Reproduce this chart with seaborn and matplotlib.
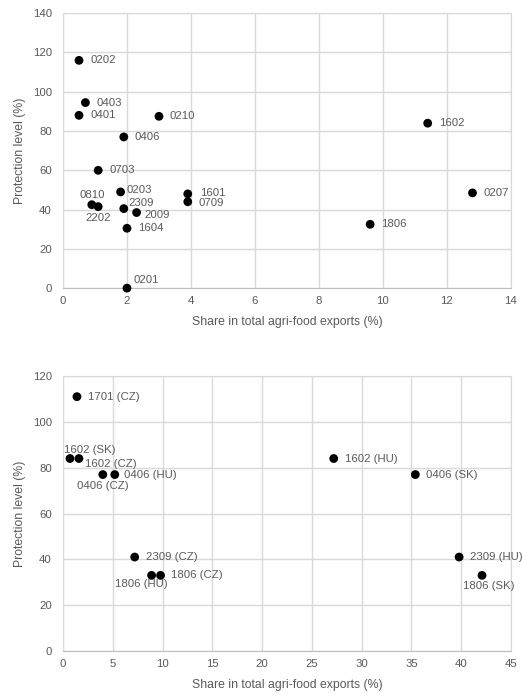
import matplotlib
matplotlib.use("Agg")
import matplotlib.pyplot as plt
import seaborn as sns
import pandas as pd

# Top panel: product codes
top_codes = ["0202", "0403", "0401", "0210", "0406", "0703", "0203", "0810", "2202",
             "2309", "2009", "1604", "0201", "1601", "0709", "1602", "0207", "1806"]
top_share = [0.5, 0.7, 0.5, 3.0, 1.9, 1.1, 1.8, 0.9, 1.1,
             1.9, 2.3, 2.0, 2.0, 3.9, 3.9, 11.4, 12.8, 9.6]
top_prot = [116, 94.5, 88, 87.5, 77, 60, 49, 42.5, 41.5,
            40.5, 38.5, 30.5, 0, 48, 44, 84, 48.5, 32.5]

# Bottom panel: product codes by country
bot_codes = ["1701 (CZ)", "1602 (SK)", "1602 (CZ)", "0406 (CZ)", "0406 (HU)", "2309 (CZ)",
             "1806 (HU)", "1806 (CZ)", "1602 (HU)", "0406 (SK)", "2309 (HU)", "1806 (SK)"]
bot_share = [1.4, 0.7, 1.6, 4.0, 5.2, 7.2, 8.9, 9.8, 27.2, 35.4, 39.8, 42.1]
bot_prot = [111, 84, 84, 77, 77, 41, 33, 33, 84, 77, 41, 33]

# label placement (pixel offsets, horizontal alignment)
top_offsets = {"0810": (0, 10, "center"), "2202": (0, -11, "center"), "0203": (6, 2, "left"),
               "2309": (5, 6, "left"), "2009": (8, -2, "left"), "0201": (7, 8, "left"),
               "1601": (12, 1, "left"), "0709": (11, -1, "left")}
bot_offsets = {"1602 (SK)": (-6, 9, "left"), "1602 (CZ)": (6, -5, "left"),
               "0406 (CZ)": (0, -11, "center"), "0406 (HU)": (9, 0, "left"),
               "1806 (HU)": (-10, -9, "center"), "1806 (CZ)": (10, 0, "left"),
               "1806 (SK)": (7, -11, "center")}

sns.set_style("white")
plt.rcParams["font.family"] = ["Liberation Sans", "DejaVu Sans"]

grey_text = "#595959"
grid_col = "#d9d9d9"

fig = plt.figure(figsize=(5.22, 6.96), dpi=100)
ax1 = fig.add_axes([0.1207, 0.586, 0.858, 0.395])
ax2 = fig.add_axes([0.1207, 0.0647, 0.858, 0.395])


def draw(ax, codes, xs, ys, offsets, xlim, xstep, ylim, ystep):
    df = pd.DataFrame({"code": codes, "share": xs, "prot": ys})
    sns.scatterplot(data=df, x="share", y="prot", color="black", s=40,
                    edgecolor="none", ax=ax, zorder=3, clip_on=False)
    for c, x, y in zip(codes, xs, ys):
        dx, dy, ha = offsets.get(c, (11, 0, "left"))
        ax.annotate(c, (x, y), xytext=(dx, dy), textcoords="offset pixels",
                    ha=ha, va="center", fontsize=8.2, color=grey_text)
    ax.set_xlim(*xlim)
    ax.set_ylim(*ylim)
    ax.set_xticks(range(xlim[0], xlim[1] + 1, xstep))
    ax.set_yticks(range(ylim[0], ylim[1] + 1, ystep))
    ax.grid(True, color=grid_col, linewidth=1)
    ax.set_axisbelow(True)
    for s in ax.spines.values():
        s.set_color(grid_col)
    ax.spines["bottom"].set_color("#bfbfbf")
    ax.tick_params(length=0, labelsize=8.2, labelcolor=grey_text)
    ax.tick_params(axis="y", pad=8)
    ax.tick_params(axis="x", pad=6)
    ax.set_xlabel("Share in total agri-food exports (%)", fontsize=8.8,
                  color=grey_text, labelpad=7)
    ax.set_ylabel("Protection level (%)", fontsize=8.8, color=grey_text, labelpad=5)


draw(ax1, top_codes, top_share, top_prot, top_offsets, (0, 14), 2, (0, 140), 20)
draw(ax2, bot_codes, bot_share, bot_prot, bot_offsets, (0, 45), 5, (0, 120), 20)

fig.savefig("out.png", dpi=100)
